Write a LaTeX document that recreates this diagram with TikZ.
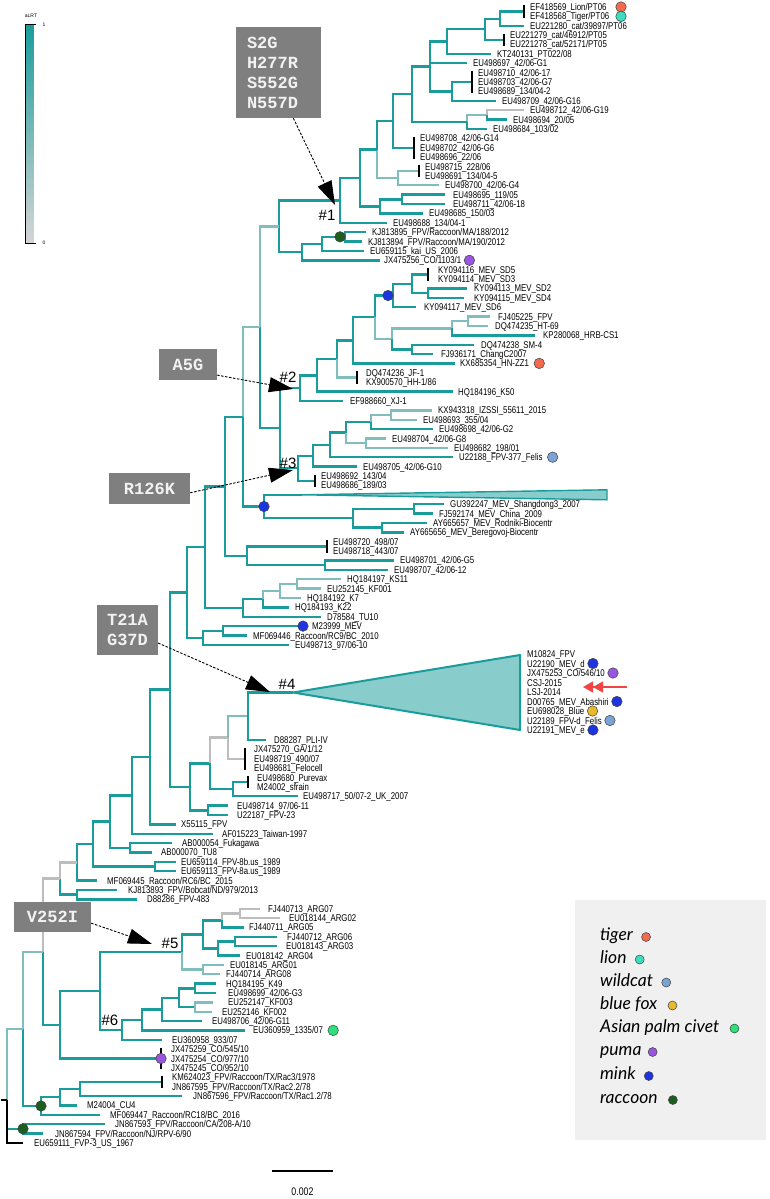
\documentclass[tikz,border=0pt]{standalone}
\usepackage{fontspec}
\usetikzlibrary{arrows.meta}
\newfontfamily\labf[FakeStretch=0.8]{Liberation Sans}
\newfontfamily\sansf{Liberation Sans}
\newfontfamily\monof{Liberation Mono}
\newfontfamily\legf{Lato}
\newcommand\labfont{\labf\fontsize{9.8pt}{9.8pt}\selectfont}
\newcommand\mbf{\monof\bfseries\fontsize{17pt}{20pt}\selectfont}
\newcommand\hashfont{\sansf\fontsize{15pt}{15pt}\selectfont}
\newcommand\legfont{\legf\itshape\fontsize{17.5pt}{17.5pt}\selectfont}
\definecolor{tl}{HTML}{1A9C9C}
\definecolor{tll}{HTML}{80BEBE}
\definecolor{tgr}{HTML}{BDBDBD}
\definecolor{trif}{HTML}{88CCCC}
\definecolor{boxg}{HTML}{7F7F7F}
\definecolor{legbg}{HTML}{F0F0F0}
\definecolor{cbb}{HTML}{D4D4D4}
\definecolor{cTig}{HTML}{F26B4F}
\definecolor{cLion}{HTML}{3DDDC0}
\definecolor{cWild}{HTML}{7BA3D3}
\definecolor{cFox}{HTML}{E8B82E}
\definecolor{cCiv}{HTML}{2EE07A}
\definecolor{cPuma}{HTML}{9955E0}
\definecolor{cMink}{HTML}{1C35E0}
\definecolor{cRac}{HTML}{1B5E20}
\definecolor{cRed}{HTML}{F04545}
\newcommand\tnd[3]{\coordinate (#1) at (#2,#3);}
\newcommand\tleaf[5]{\coordinate (#1) at (#2,#3); \node[lab] (#1l) at (#4,#3) {#5};}
\newcommand\edg[3][]{\draw[br,#1] (#2) |- (#3);}
\tikzset{
 br/.style={draw=tl, line width=2.4pt},
 lt/.style={draw=tll},
 gr/.style={draw=tgr},
 bk/.style={draw=black},
 tick/.style={draw=black, line width=2pt, shorten <=-1.5pt, shorten >=-1.5pt},
 lab/.style={anchor=west, inner sep=0pt, font=\labfont, text height=7pt, text depth=0pt},
 dot/.style={circle, draw=black!75, line width=0.5pt, inner sep=0pt, minimum size=10.5pt},
 mbox/.style={fill=boxg, text=white!95!black, font=\mbf, inner sep=0pt, align=center},
 mut/.style={draw=black, line width=0.9pt, dash pattern=on 2.5pt off 1.5pt, -{Triangle[length=24pt,width=15pt]}},
 hl/.style={font=\hashfont, inner sep=0pt},
 tri/.style={fill=trif, draw=tl, line width=2pt, line join=round},
 legt/.style={anchor=west, inner sep=0pt, font=\legfont, text height=11pt, text depth=4pt},
 ra/.style={draw=cRed, line width=1.3pt, -{Triangle[length=10pt,width=11pt]Triangle[length=10pt,width=11pt]}}
}
\begin{document}
\begin{tikzpicture}[x=1pt,y=-1pt]
\useasboundingbox (0,0) rectangle (770,1199);
\fill[white] (0,0) rectangle (770,1199);
% ---------------- colour bar
\foreach \i in {0,...,72} {\pgfmathtruncatemacro\pc{100-\i*100/72}
 \fill[tl!\pc!cbb] (26,{24+3*\i}) rectangle (33.5,{27.2+3*\i});}
\draw[black, line width=0.8pt] (36,24) -- (25.5,24) -- (25.5,243) -- (36,243);
\node[font=\sansf\fontsize{5pt}{5pt}\selectfont, inner sep=0pt] (cbT) at (31,15.5) {aLRT};
\node[font=\sansf\fontsize{5pt}{5pt}\selectfont, inner sep=0pt] (cb1) at (44,25) {1};
\node[font=\sansf\fontsize{5pt}{5pt}\selectfont, inner sep=0pt] (cb0) at (44,243) {0};
% ---------------- leaves (top)
\tleaf{L1}{524}{7.0}{530}{EF418569\_Lion/PT06}
\tleaf{L2}{524}{16.4}{530}{EF418568\_Tiger/PT06}
\tleaf{L3}{524}{25.8}{530}{EU221280\_cat/39897/PT06}
\tleaf{L4}{504}{35.1}{510}{EU221279\_cat/46912/PT05}
\tleaf{L5}{504}{44.5}{510}{EU221278\_cat/52171/PT05}
\tleaf{L6}{491}{53.9}{497}{KT240131\_PT022/08}
\tleaf{L7}{467}{63.3}{473}{EU498697\_42/06-G1}
\tleaf{L8}{472}{72.7}{478}{EU498710\_42/06-17}
\tleaf{L9}{472}{82.0}{478}{EU498703\_42/06-G7}
\tleaf{L10}{472}{91.4}{478}{EU498689\_134/04-2}
\tleaf{L11}{496}{100.8}{502}{EU498709\_42/06-G16}
\tleaf{L12}{524}{110.2}{530}{EU498712\_42/06-G19}
\tleaf{L13}{507}{119.6}{513}{EU498694\_20/05}
\tleaf{L14}{487}{128.9}{493}{EU498684\_103/02}
\tleaf{L15}{414}{138.3}{420}{EU498708\_42/06-G14}
\tleaf{L16}{414}{147.7}{420}{EU498702\_42/06-G6}
\tleaf{L17}{414}{157.1}{420}{EU498696\_22/06}
\tleaf{L18}{419}{166.5}{425}{EU498715\_228/06}
\tleaf{L19}{419}{175.8}{425}{EU498691\_134/04-5}
\tleaf{L20}{439}{185.2}{445}{EU498700\_42/06-G4}
\tleaf{L21}{445}{194.6}{453}{EU498695\_119/05}
\tleaf{L22}{445}{204.0}{453}{EU498711\_42/06-18}
\tleaf{L23}{423}{213.4}{429}{EU498685\_150/03}
\tleaf{L24}{387}{222.7}{393}{EU498688\_134/04-1}
\tleaf{L25}{366}{232.1}{372}{KJ813895\_FPV/Raccoon/MA/188/2012}
\tleaf{L26}{362}{241.5}{368}{KJ813894\_FPV/Raccoon/MA/190/2012}
\tleaf{L27}{364}{250.9}{370}{EU659115\_kai\_US\_2006}
\tleaf{L28}{380}{260.3}{384}{JX475256\_CO/1103/1}
\tleaf{L29}{428}{269.6}{438}{KY094116\_MEV\_SD5}
\tleaf{L30}{428}{279.0}{438}{KY094114\_MEV\_SD3}
\tleaf{L31}{467}{288.4}{474}{KY094113\_MEV\_SD2}
\tleaf{L32}{464}{297.8}{474}{KY094115\_MEV\_SD4}
\tleaf{L33}{416}{307.2}{424}{KY094117\_MEV\_SD6}
\tleaf{L34}{490}{316.5}{498}{FJ405225\_FPV}
\tleaf{L35}{488}{325.9}{495}{DQ474235\_HT-69}
\tleaf{L36}{535}{335.3}{543}{KP280068\_HRB-CS1}
\tleaf{L37}{474}{344.7}{481}{DQ474238\_SM-4}
\tleaf{L38}{433}{354.1}{441}{FJ936171\_ChangC2007}
\tleaf{L39}{455}{363.4}{460}{KX685354\_HN-ZZ1}
\tleaf{L40}{357}{372.8}{366}{DQ474236\_JF-1}
\tleaf{L41}{357}{382.2}{366}{KX900570\_HH-1/86}
\tleaf{L42}{453}{391.6}{458}{HQ184196\_K50}
\tleaf{L43}{343}{401.0}{350}{EF988660\_XJ-1}
\tleaf{L44}{432}{410.3}{438}{KX943318\_IZSSI\_55611\_2015}
\tleaf{L45}{417}{419.7}{423}{EU498693\_355/04}
\tleaf{L46}{433}{429.1}{439}{EU498698\_42/06-G2}
\tleaf{L47}{386}{438.5}{392}{EU498704\_42/06-G8}
\tleaf{L48}{448}{447.9}{454}{EU498682\_198/01}
\tleaf{L49}{453}{457.2}{459}{U22188\_FPV-377\_Felis}
\tleaf{L50}{357}{466.6}{363}{EU498705\_42/06-G10}
\tleaf{L51}{315}{476.0}{321}{EU498692\_143/04}
\tleaf{L52}{315}{485.4}{321}{EU498686\_189/03}
\coordinate (L53) at (302,494.8);
\coordinate (L53a) at (607,489.8);
\coordinate (L53b) at (607,499.8);
\tleaf{L54}{444}{504.1}{450}{GU392247\_MEV\_Shangdong3\_2007}
\tleaf{L55}{433}{513.5}{439}{FJ592174\_MEV\_China\_2009}
\tleaf{L56}{427}{522.9}{433}{AY665657\_MEV\_Rodniki-Biocentr}
\tleaf{L57}{404}{532.3}{410}{AY665656\_MEV\_Beregovoj-Biocentr}
\tleaf{L58}{327}{541.7}{333}{EU498720\_498/07}
\tleaf{L59}{327}{551.0}{333}{EU498718\_443/07}
\tleaf{L60}{394}{560.4}{400}{EU498701\_42/06-G5}
\tleaf{L61}{388}{569.8}{394}{EU498707\_42/06-12}
\tleaf{L62}{341}{579.2}{347}{HQ184197\_KS11}
\tleaf{L63}{321}{588.6}{327}{EU252145\_KF001}
\tleaf{L64}{301}{597.9}{307}{HQ184192\_K7}
\tleaf{L65}{289}{607.3}{295}{HQ184193\_K22}
\tleaf{L66}{321}{616.7}{327}{D78584\_TU10}
\tleaf{L67}{300}{626.1}{312}{M23999\_MEV}
\tleaf{L68}{247}{635.5}{253}{MF069446\_Raccoon/RC9/BC\_2010}
\tleaf{L69}{289}{644.8}{295}{EU498713\_97/06-10}
% ---------------- leaves (bottom)
\tleaf{M1}{266}{740.0}{274}{D88287\_PLI-IV}
\tleaf{M2}{245}{749.4}{254}{JX475270\_GA/1/12}
\tleaf{M3}{245}{758.7}{254}{EU498719\_490/07}
\tleaf{M4}{245}{768.1}{254}{EU498681\_Felocell}
\tleaf{M5}{248}{777.5}{257}{EU498680\_Purevax}
\tleaf{M6}{248}{786.9}{257}{M24002\_sfrain}
\tleaf{M7}{298}{796.2}{303}{EU498717\_50/07-2\_UK\_2007}
\tleaf{M8}{228}{805.6}{237}{EU498714\_97/06-11}
\tleaf{M9}{228}{815.0}{237}{U22187\_FPV-23}
\tleaf{M10}{176}{824.3}{181}{X55115\_FPV}
\tleaf{M11}{213}{833.7}{222}{AF015223\_Taiwan-1997}
\tleaf{M12}{172}{843.1}{182}{AB000054\_Fukagawa}
\tleaf{M13}{152}{852.4}{161}{AB000070\_TU8}
\tleaf{M14}{176}{861.8}{181}{EU659114\_FPV-8b.us\_1989}
\tleaf{M15}{176}{871.2}{181}{EU659113\_FPV-8a.us\_1989}
\tleaf{M16}{97}{880.5}{107}{MF069445\_Raccoon/RC6/BC\_2015}
\tleaf{M17}{117}{889.9}{128}{KJ813893\_FPV/Bobcat/ND/979/2013}
\tleaf{M18}{137}{899.3}{147}{D88286\_FPV-483}
\tleaf{M19}{260}{908.7}{268}{FJ440713\_ARG07}
\tleaf{M20}{280}{918.0}{289}{EU018144\_ARG02}
\tleaf{M21}{244}{927.4}{249}{FJ440711\_ARG05}
\tleaf{M22}{277}{936.8}{287}{FJ440712\_ARG06}
\tleaf{M23}{277}{946.1}{286}{EU018143\_ARG03}
\tleaf{M24}{240}{955.5}{246}{EU018142\_ARG04}
\tleaf{M25}{224}{964.9}{230}{EU018145\_ARG01}
\tleaf{M26}{220}{974.2}{226}{FJ440714\_ARG08}
\tleaf{M27}{216}{983.6}{226}{HQ184195\_K49}
\tleaf{M28}{216}{993.0}{228}{EU498699\_42/06-G3}
\tleaf{M29}{213}{1002.3}{228}{EU252147\_KF003}
\tleaf{M30}{212}{1011.7}{222}{EU252146\_KF002}
\tleaf{M31}{202}{1021.1}{212}{EU498706\_42/06-G11}
\tleaf{M32}{245}{1030.4}{253}{EU360959\_1335/07}
\tleaf{M33}{162}{1039.8}{172}{EU360958\_933/07}
\tleaf{M34}{161}{1049.2}{171}{JX475259\_CO/545/10}
\tleaf{M35}{161}{1058.5}{171}{JX475254\_CO/977/10}
\tleaf{M36}{161}{1067.9}{171}{JX475245\_CO/952/10}
\tleaf{M37}{162}{1077.3}{172}{KM624023\_FPV/Raccoon/TX/Rac3/1978}
\tleaf{M38}{162}{1086.7}{172}{JN867595\_FPV/Raccoon/TX/Rac2.2/78}
\tleaf{M39}{182}{1096.0}{193}{JN867596\_FPV/Raccoon/TX/Rac1.2/78}
\tleaf{M40}{77}{1105.4}{87}{M24004\_CU4}
\tleaf{M41}{100}{1114.8}{110}{MF069447\_Raccoon/RC18/BC\_2016}
\tleaf{M42}{105}{1124.1}{115}{JN867593\_FPV/Raccoon/CA/208-A/10}
\tleaf{M43}{43}{1133.5}{55}{JN867594\_FPV/Raccoon/NJ/RPV-6/90}
\tleaf{M44}{23}{1142.9}{34}{EU659111\_FVP-3\_US\_1967}
% ---------------- internal nodes
\tnd{tLT}{524}{11.7}\tnd{Na}{500}{18.8}\tnd{tCat}{504}{39.8}\tnd{Nb}{485}{29.3}
\tnd{Nc}{447}{41.6}\tnd{tG7}{472}{82.0}\tnd{Ne}{452}{91.4}\tnd{Nd}{430}{66.5}
\tnd{Ng}{487}{114.9}\tnd{Nf}{467}{121.9}\tnd{Nh}{412}{94.2}\tnd{tG14}{414}{147.7}
\tnd{Ni}{393}{121.0}\tnd{tG2}{419}{171.2}\tnd{Nj}{398}{178.2}\tnd{Nk}{377}{149.6}
\tnd{Nq}{402}{199.3}\tnd{Nr}{380}{206.4}\tnd{Ns}{360}{178.0}\tnd{N1}{340}{200.4}
\tnd{Nrac}{345}{236.8}\tnd{N322}{322}{243.9}\tnd{N302}{302}{252.1}\tnd{N279}{279}{226.3}
\tnd{tSD}{428}{274.3}\tnd{Nm2}{428}{293.1}\tnd{Nm1}{412}{283.7}\tnd{Nmink}{393}{295.5}
\tnd{Nz}{468}{321.2}\tnd{Nx}{452}{328.3}\tnd{Ny}{412}{349.4}\tnd{Nlt}{392}{338.9}
\tnd{N375}{375}{317.2}\tnd{N353}{353}{340.3}\tnd{tJF}{357}{377.5}\tnd{N337}{337}{358.9}
\tnd{N317}{317}{375.3}\tnd{N2}{300}{388.1}
\tnd{Nf3}{391}{415.0}\tnd{Nd3}{371}{422.1}\tnd{Ne3}{366}{443.2}\tnd{Nc3}{346}{432.6}
\tnd{Nb3}{330}{444.9}\tnd{Na3}{313}{455.8}\tnd{t3}{315}{480.7}\tnd{N3}{298}{468.2}
\tnd{N280}{280}{428.2}\tnd{N260}{260}{327.2}
\tnd{N417}{414}{508.8}\tnd{N386}{382}{527.6}\tnd{N356}{353}{518.2}\tnd{Nbl}{264}{506.5}
\tnd{N243}{243}{416.9}\tnd{t720}{327}{546.4}\tnd{N328}{325}{565.1}\tnd{N249}{247}{555.8}
\tnd{N225}{225}{486.3}\tnd{Nh2}{297}{583.9}\tnd{Ng2}{280}{590.9}\tnd{N263}{263}{599.1}
\tnd{N243b}{243}{607.9}\tnd{N205}{205}{547.1}\tnd{N223}{223}{630.8}\tnd{N203c}{203}{637.8}
\tnd{N187}{187}{592.5}\tnd{T4}{293}{692.5}\tnd{T4a}{520}{655}\tnd{T4b}{520}{730}
\tnd{N248}{248}{716.2}\tnd{tGA}{245}{758.7}\tnd{N228}{228}{737.5}
\tnd{tPur}{248}{782.2}\tnd{N233}{233}{789.2}\tnd{N210}{210}{763.3}\tnd{N208}{208}{810.3}
\tnd{N190}{190}{786.8}\tnd{N170}{170}{689.6}\tnd{N150}{150}{757.0}\tnd{N132}{132}{795.3}
\tnd{N130}{130}{847.8}\tnd{N110}{110}{821.5}\tnd{N155}{155}{866.5}\tnd{N93}{93}{844.0}
\tnd{N77}{77}{862.3}\tnd{W}{77}{894.6}\tnd{T}{60}{878.5}
\tnd{nA1a}{240}{913.3}\tnd{nA1}{222}{920.4}\tnd{nA2a}{235}{941.5}\tnd{nA2}{218}{948.5}
\tnd{nA}{203}{934.4}\tnd{nB}{203}{969.6}\tnd{N182}{182}{952.0}
\tnd{Np}{195}{988.3}\tnd{Nq2}{195}{1007.0}\tnd{N179}{179}{997.7}\tnd{N162}{162}{1009.4}
\tnd{N142}{142}{1019.9}\tnd{N122}{122}{1029.9}\tnd{N100}{100}{991.0}\tnd{tPuma}{161}{1058.5}
\tnd{B}{60}{1024.8}\tnd{Z}{43}{951.7}\tnd{tKM}{162}{1082.0}\tnd{N80}{80}{1089.0}
\tnd{N60r}{60}{1097.2}\tnd{R41}{41}{1106.0}\tnd{X}{23}{1028.9}\tnd{Y}{23}{1128.8}
\tnd{Rt}{7}{1100}\tnd{stub}{1}{1100}
% ---------------- branches
\edg{Na}{tLT}\edg{Na}{L3}\edg{Nb}{Na}\edg{Nb}{tCat}\edg{Nc}{Nb}\edg{Nc}{L6}
\edg{Nd}{Nc}\edg{Nd}{L7}\edg{Nd}{Ne}\edg{Ne}{tG7}\edg{Ne}{L11}
\edg[lt]{Nf}{Ng}\edg{Nf}{L14}\edg[gr]{Ng}{L12}\edg{Ng}{L13}
\edg{Nh}{Nd}\edg{Nh}{Nf}\edg{Ni}{Nh}\edg{Ni}{tG14}
\edg{Nk}{Ni}\edg[lt]{Nk}{Nj}\edg[lt]{Nj}{tG2}\edg[lt]{Nj}{L20}
\edg{Ns}{Nk}\edg{Ns}{Nr}\edg{Nr}{Nq}\edg{Nr}{L23}\edg{Nq}{L21}\edg{Nq}{L22}
\edg{N1}{Ns}\edg{N1}{L24}
\edg{N279}{N1}\edg{N279}{N302}\edg{N302}{N322}\edg{N302}{L28}
\edg{N322}{Nrac}\edg{N322}{L27}\edg{Nrac}{L25}\edg{Nrac}{L26}
\edg[lt]{N260}{N279}\edg{N260}{N280}\edg{N280}{N2}\edg{N280}{N3}
\edg{N2}{N317}\edg{N2}{L43}\edg{N317}{N337}\edg{N317}{L42}
\edg{N337}{N353}\edg[lt]{N337}{tJF}\edg{N353}{N375}\edg{N353}{L39}
\edg{N375}{Nmink}\edg[lt]{N375}{Nlt}\edg{Nmink}{Nm1}\edg{Nmink}{L33}
\edg{Nm1}{tSD}\edg{Nm1}{Nm2}\edg{Nm2}{L31}\edg{Nm2}{L32}
\edg[lt]{Nlt}{Nx}\edg{Nlt}{Ny}\edg[lt]{Nx}{Nz}\edg{Nx}{L36}
\edg[lt]{Nz}{L34}\edg[lt]{Nz}{L35}\edg{Ny}{L37}\edg{Ny}{L38}
\edg{N3}{Na3}\edg{N3}{t3}\edg{Na3}{Nb3}\edg{Na3}{L50}\edg{Nb3}{Nc3}\edg{Nb3}{L49}
\edg{Nc3}{Nd3}\edg[lt]{Nc3}{Ne3}\edg[lt]{Nd3}{Nf3}\edg{Nd3}{L46}
\edg[lt]{Nf3}{L44}\edg[lt]{Nf3}{L45}\edg[lt]{Ne3}{L47}\edg[lt]{Ne3}{L48}
\edg[lt]{N243}{N260}\edg{N243}{Nbl}\edg{Nbl}{L53}\edg{Nbl}{N356}
\edg{N356}{N417}\edg{N356}{N386}\edg{N417}{L54}\edg{N417}{L55}\edg{N386}{L56}\edg{N386}{L57}
\edg{N225}{N243}\edg{N225}{N249}\edg{N249}{t720}\edg{N249}{N328}\edg{N328}{L60}\edg{N328}{L61}
\edg{N205}{N225}\edg{N205}{N243b}\edg{N243b}{N263}\edg{N243b}{L66}
\edg[lt]{N263}{Ng2}\edg{N263}{L65}\edg[lt]{Ng2}{Nh2}\edg[lt]{Ng2}{L64}
\edg[lt]{Nh2}{L62}\edg[lt]{Nh2}{L63}
\edg{N187}{N205}\edg{N187}{N203c}\edg{N203c}{N223}\edg{N203c}{L69}
\edg{N223}{L67}\edg{N223}{L68}
\edg{N170}{N187}\edg{N170}{N190}\edg{N190}{N210}\edg{N190}{N208}
\edg[gr]{N210}{N228}\edg{N210}{N233}\edg[lt]{N228}{N248}\edg[gr]{N228}{tGA}
\edg{N248}{T4}\edg{N248}{M1}\edg{N233}{tPur}\edg{N233}{M7}\edg{N208}{M8}\edg{N208}{M9}
\edg{N150}{N170}\edg{N150}{M10}\edg{N132}{N150}\edg{N132}{M11}
\edg{N110}{N132}\edg{N110}{N130}\edg{N130}{M12}\edg{N130}{M13}
\edg{N93}{N110}\edg{N93}{N155}\edg{N155}{M14}\edg{N155}{M15}
\edg{N77}{N93}\edg{N77}{M16}\edg{W}{M17}\edg{W}{M18}
\edg[gr]{T}{N77}\edg{T}{W}\edg[gr]{Z}{T}\edg{Z}{B}
\edg{B}{N100}\edg{B}{tPuma}\edg{N100}{N182}\edg{N100}{N122}
\edg{N182}{nA}\edg[lt]{N182}{nB}\edg{nA}{nA1}\edg{nA}{nA2}
\edg[gr]{nA1}{nA1a}\edg{nA1}{M21}\edg[gr]{nA1a}{M19}\edg[gr]{nA1a}{M20}
\edg{nA2}{nA2a}\edg{nA2}{M24}\edg{nA2a}{M22}\edg{nA2a}{M23}
\edg[lt]{nB}{M25}\edg[lt]{nB}{M26}
\edg{N122}{N142}\edg{N122}{M33}\edg{N142}{N162}\edg{N142}{M32}
\edg{N162}{N179}\edg{N162}{M31}\edg{N179}{Np}\edg{N179}{Nq2}
\edg{Np}{M27}\edg{Np}{M28}\edg[lt]{Nq2}{M29}\edg[lt]{Nq2}{M30}
\edg[lt]{X}{Z}\edg{X}{R41}\edg{R41}{N60r}\edg{R41}{M41}
\edg{N60r}{N80}\edg{N60r}{M40}\edg{N80}{tKM}\edg{N80}{M39}
\edg{Y}{M42}\edg{Y}{M43}
\edg[lt]{Rt}{X}\edg{Rt}{Y}\edg[bk]{Rt}{M44}\edg[bk]{stub}{Rt}
% zero-length ticks
\draw[tick] (L1) -- (L2); \draw[tick] (L4) -- (L5); \draw[tick] (L8) -- (L10);
\draw[tick] (L15) -- (L17); \draw[tick] (L18) -- (L19); \draw[tick] (L29) -- (L30);
\draw[tick] (L40) -- (L41); \draw[tick] (L51) -- (L52); \draw[tick] (L58) -- (L59);
\draw[tick] (M2) -- (M4); \draw[tick] (M5) -- (M6); \draw[tick] (M34) -- (M36);
\draw[tick] (M37) -- (M38);
% collapsed clades
\filldraw[tri, line width=1.4pt] (L53) -- (L53a) -- (L53b) -- cycle;
\filldraw[tri] (T4) -- (T4a) -- (T4b) -- cycle;
\node[lab] (C1) at (527,654) {M10824\_FPV};
\node[lab] (C2) at (527,663.5) {U22190\_MEV\_d};
\node[lab] (C3) at (527,673) {JX475253\_CO/546/10};
\node[lab] (C4) at (527,682.5) {CSJ-2015};
\node[lab] (C5) at (527,692) {LSJ-2014};
\node[lab] (C6) at (527,701.5) {D00765\_MEV\_Abashiri};
\node[lab] (C7) at (527,711) {EU698028\_Blue};
\node[lab] (C8) at (527,720.5) {U22189\_FPV-d\_Felis};
\node[lab] (C9) at (527,730) {U22191\_MEV\_e};
% ---------------- host dots
\node[dot, fill=cTig] (dL1) at (621,7.0) {};
\node[dot, fill=cLion] (dL2) at (621,16.4) {};
\node[dot, fill=cRac] (dRac) at (340,236.8) {};
\node[dot, fill=cPuma] (dL28) at ([xshift=8pt]L28l.east) {};
\node[dot, fill=cMink] (dMink) at (388,295.5) {};
\node[dot, fill=cTig] (dL39) at ([xshift=10pt]L39l.east) {};
\node[dot, fill=cWild] (dL49) at ([xshift=10pt]L49l.east) {};
\node[dot, fill=cMink] (dBl) at (Nbl) {};
\node[dot, fill=cMink] (dL67) at (303,626.1) {};
\node[dot, fill=cMink] (dC2) at ([xshift=8pt]C2.east) {};
\node[dot, fill=cPuma] (dC3) at ([xshift=8pt]C3.east) {};
\node[dot, fill=cMink] (dC6) at ([xshift=8pt]C6.east) {};
\node[dot, fill=cFox] (dC7) at ([xshift=8pt]C7.east) {};
\node[dot, fill=cWild] (dC8) at ([xshift=8pt]C8.east) {};
\node[dot, fill=cMink] (dC9) at ([xshift=8pt]C9.east) {};
\node[dot, fill=cCiv] (dM32) at ([xshift=10pt]M32l.east) {};
\node[dot, fill=cPuma] (dPuma) at (tPuma) {};
\node[dot, fill=cRac] (dR41) at (R41) {};
\node[dot, fill=cRac] (dY) at (Y) {};
% red arrow
\coordinate (ra1) at (627,687); \coordinate (ra2) at (583,687);
\draw[ra] (ra1) -- (ra2);
% ---------------- clade numbers
\node[hl] (h1) at (327,215) {\#1};
\node[hl] (h2) at (288,377) {\#2};
\node[hl] (h3) at (288,463) {\#3};
\node[hl] (h4) at (287,684) {\#4};
\node[hl] (h5) at (170,943) {\#5};
\node[hl] (h6) at (110,1020) {\#6};
% ---------------- mutation boxes and arrows
\node[mbox, minimum width=85pt, minimum height=91pt, text width=63pt, align=left] (bS2G) at (278.5,72.5) {S2G\\H277R\\S552G\\N557D};
\node[mbox, minimum width=58pt, minimum height=31pt] (bA5G) at (188,364.5) {A5G};
\node[mbox, minimum width=81pt, minimum height=31pt] (bR) at (149.5,488.5) {R126K};
\node[mbox, minimum width=61pt, minimum height=50pt] (bT) at (127.5,630) {T21A\\G37D};
\node[mbox, minimum width=77pt, minimum height=30pt] (bV) at (52.5,917) {V252I};
\coordinate (a1e) at (335,205); \coordinate (a2e) at (293,389);
\coordinate (a3e) at (293,470); \coordinate (a4e) at (270,692);
\coordinate (a5e) at (152,944);
\draw[mut] (bS2G.-72) -- (a1e);
\draw[mut] (bA5G.-20) -- (a2e);
\draw[mut] (bR.-6) -- (a3e);
\draw[mut] (bT.-23) -- (a4e);
\draw[mut] (bV.-9) -- (a5e);
% ---------------- scale bar
\coordinate (sb1) at (272,1171); \coordinate (sb2) at (333,1171);
\draw[black, line width=1.2pt] (sb1) -- (sb2);
\node[font=\labf\fontsize{11pt}{11pt}\selectfont, inner sep=0pt] (sbl) at (302.5,1192) {0.002};
% ---------------- legend
\node[fill=legbg, minimum width=191pt, minimum height=240pt, anchor=north west, inner sep=0pt] (leg) at (575,900) {};
\node[legt] (g1) at (600,937) {tiger};
\node[legt] (g2) at (600,959.5) {lion};
\node[legt] (g3) at (600,982.5) {wildcat};
\node[legt] (g4) at (600,1005.5) {blue fox};
\node[legt] (g5) at (600,1028.5) {Asian palm civet};
\node[legt] (g6) at (600,1052) {puma};
\node[legt] (g7) at (600,1076) {mink};
\node[legt] (g8) at (600,1100) {raccoon};
\node[dot, minimum size=9pt, fill=cTig] (k1) at ([xshift=13pt]g1.east) {};
\node[dot, minimum size=9pt, fill=cLion] (k2) at ([xshift=13pt]g2.east) {};
\node[dot, minimum size=9pt, fill=cWild] (k3) at ([xshift=13pt]g3.east) {};
\node[dot, minimum size=9pt, fill=cFox] (k4) at ([xshift=15pt]g4.east) {};
\node[dot, minimum size=9pt, fill=cCiv] (k5) at ([xshift=15pt]g5.east) {};
\node[dot, minimum size=9pt, fill=cPuma] (k6) at ([xshift=11pt]g6.east) {};
\node[dot, minimum size=9pt, fill=cMink] (k7) at ([xshift=13pt]g7.east) {};
\node[dot, minimum size=9pt, fill=cRac] (k8) at ([xshift=15pt]g8.east) {};
\end{tikzpicture}
\end{document}
